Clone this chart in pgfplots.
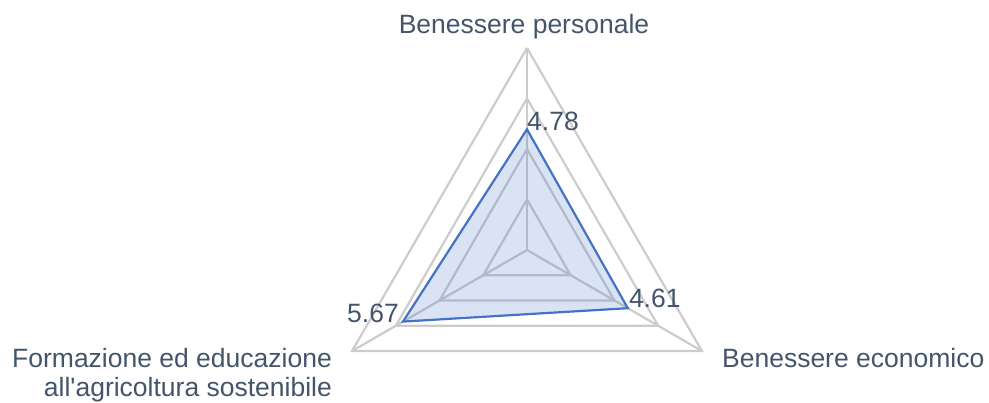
\documentclass[border=0pt]{standalone}
\usepackage{pgfplots}
\pgfplotsset{compat=1.18}
\usepgfplotslibrary{polar}
\usepackage{fontspec}
\setmainfont{Liberation Sans}[Ligatures=TeXOff]
\definecolor{txt}{HTML}{44546A}
\definecolor{gridc}{HTML}{CCCCCC}
\definecolor{ser}{HTML}{4472C4}
\begin{document}
\begin{tikzpicture}
\begin{polaraxis}[
  hide axis,
  scale only axis,
  width=404pt, height=404pt,
  ymin=0, ymax=8,
  clip=false,
  font=\fontsize{26.5}{30}\selectfont,
]
% grid triangles
\addplot[gridc, line width=2.2pt, line join=miter] coordinates {(90,8) (210,8) (330,8) (90,8)};
\addplot[gridc, line width=2.2pt, line join=miter] coordinates {(90,6) (210,6) (330,6) (90,6)};
\addplot[gridc, line width=2.2pt, line join=miter] coordinates {(90,4) (210,4) (330,4) (90,4)};
\addplot[gridc, line width=2.2pt, line join=miter] coordinates {(90,2) (210,2) (330,2) (90,2)};
% spokes
\addplot[gridc, line width=2.2pt] coordinates {(90,0) (90,8)};
\addplot[gridc, line width=2.2pt] coordinates {(210,0) (210,8)};
\addplot[gridc, line width=2.2pt] coordinates {(330,0) (330,8)};
% series
\addplot[draw=ser, line width=2.2pt, fill=ser, fill opacity=0.2, draw opacity=1, line join=miter]
  coordinates {(90,4.78) (330,4.61) (210,5.67) (90,4.78)} -- cycle;
% data labels
\node[txt, anchor=base west, inner sep=0pt, xshift=0pt, yshift=-1pt] at (axis cs:90,4.78) {4.78};
\node[txt, anchor=base west, inner sep=0pt, xshift=1pt, yshift=1pt] at (axis cs:330,4.61) {4.61};
\node[txt, anchor=base east, inner sep=0pt, xshift=-4pt, yshift=-1pt] at (axis cs:210,5.67) {5.67};
% category labels
\node[txt, anchor=base, inner sep=0pt, xshift=-3pt, yshift=14pt] at (axis cs:90,8) {Benessere personale};
\node[txt, anchor=base west, inner sep=0pt, xshift=20pt, yshift=-17pt] at (axis cs:330,8) {Benessere economico};
\node[txt, anchor=base east, inner sep=0pt, xshift=-20pt, yshift=-17pt] at (axis cs:210,8) {Formazione ed educazione};
\node[txt, anchor=base east, inner sep=0pt, xshift=-20pt, yshift=-46pt] at (axis cs:210,8) {all'agricoltura sostenibile};
\coordinate (c) at (axis cs:0,0);
\end{polaraxis}
\pgfresetboundingbox
\path (c) ++(-527pt,-153pt) rectangle ++(989pt,403pt);
\end{tikzpicture}
\end{document}
